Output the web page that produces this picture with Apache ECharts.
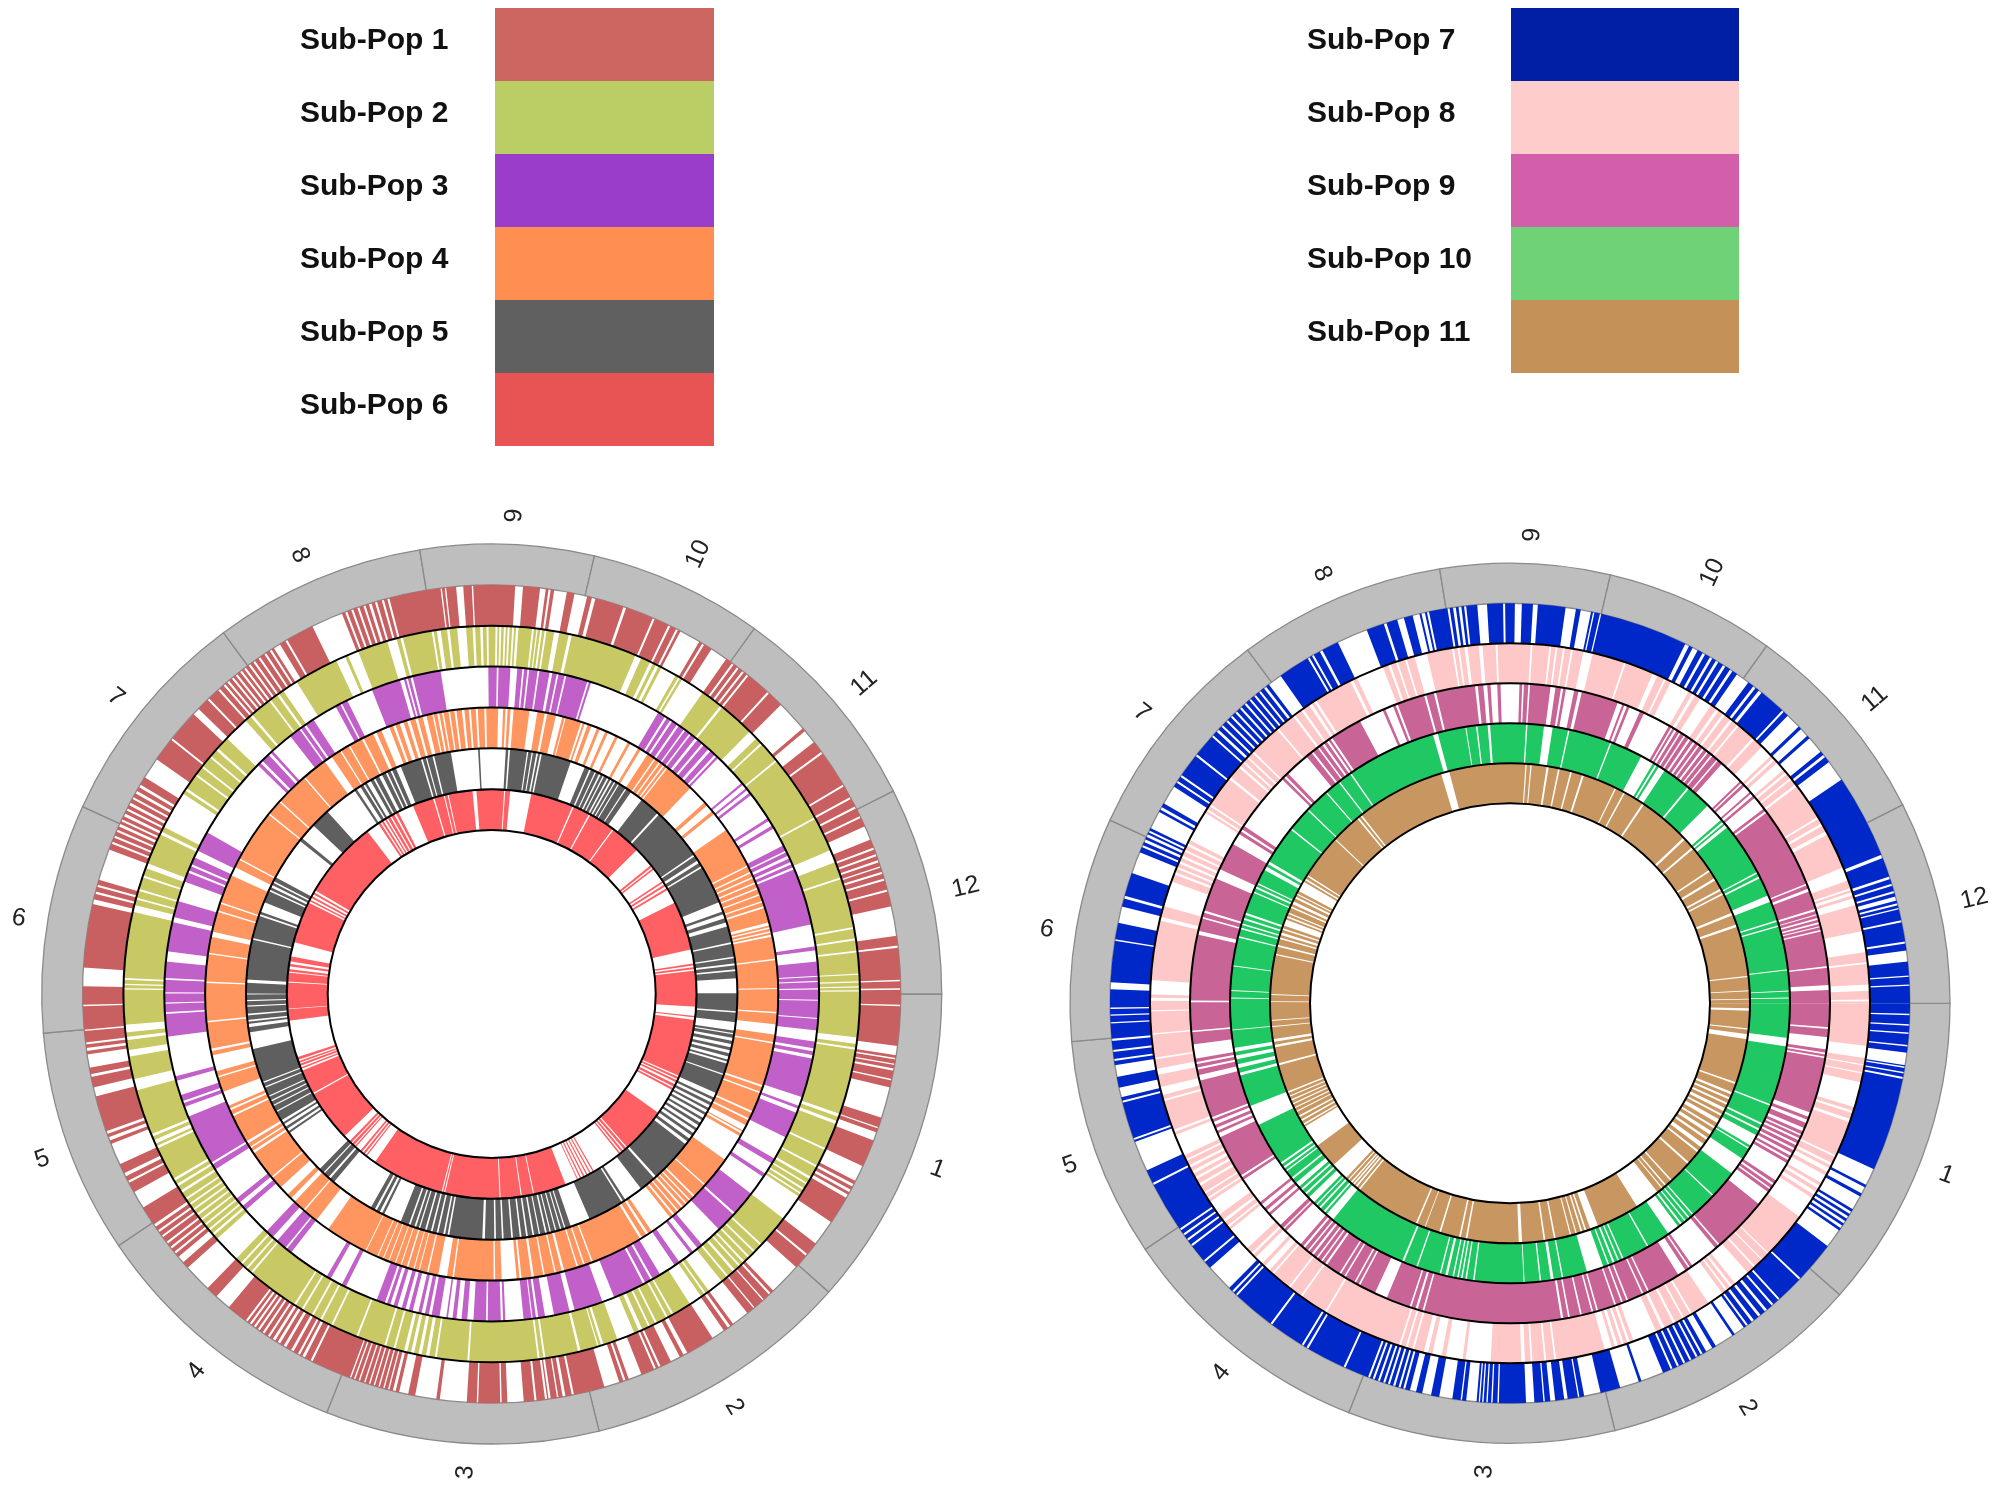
<!DOCTYPE html>
<html><head><meta charset="utf-8">
<style>html,body{margin:0;padding:0;background:#fff}#c{width:2000px;height:1488px}</style>
<script src="https://cdn.jsdelivr.net/npm/echarts@6/dist/echarts.min.js"></script>
</head><body><div id="c"></div>
<script>
// Angles are degrees clockwise from 3 o'clock; every pair is an unoccupied (white) stretch of a ring.
const chromLabels=['1','2','3','4','5','6','7','8','9','10','11','12'];
const chromEdges=[0,41.5,76.2,111.5,146,175,204.6,233.4,260.8,283.2,305.7,333.2,360];
const subPopNames=['Sub-Pop 1','Sub-Pop 2','Sub-Pop 3','Sub-Pop 4','Sub-Pop 5','Sub-Pop 6','Sub-Pop 7','Sub-Pop 8','Sub-Pop 9','Sub-Pop 10','Sub-Pop 11'];
const ringColors=['#C85F60','#C8C864','#C060C8','#FF9660','#5F5F5F','#FF6064','#0028C8','#FFC8C8','#C86496','#20C864','#C89660'];
const legendColors=['#CD6560','#BBCE66','#9B3DCB','#FF8F50','#606060','#E85454','#001FA5','#FFCCCC','#D25EAC','#70D277','#C49259'];

const subPop1Gaps=[[1.5,1.7],[7.3,8.6],[9,9.2],[9.8,10],[10.5,10.8],[12,12.2],[13.2,17.6],[19,19.2],[19.8,21],[24.9,27.2],[27.7,28.1],[28.6,29],[29.4,29.9],[33.9,37.6],[39.5,39.8],[41.9,46.5],[47,47.3],[48.3,48.5],[50,50.2],[51.3,53.8],[54.3,54.7],[55.4,57.3],[61.4,62],[62.6,64],[65.6,65.9],[66.3,66.6],[68.5,70.4],[70.9,71.2],[71.8,74],[78.4,78.7],[79.6,80],[80.6,80.8],[81.7,82],[82.2,82.5],[83.7,84],[85.5,87.8],[88.6,88.8],[91.9,92.1],[93.5,97.3],[97.8,100.8],[101.8,103.1],[103.6,104],[104.5,104.7],[105.2,105.4],[105.9,106.1],[106.6,106.8],[107.3,107.5],[108,108.2],[108.8,109],[109.5,109.7],[110.1,110.3],[116,116.3],[117.2,117.6],[118,118.3],[119,119.4],[120.2,120.6],[121.2,121.6],[122,122.4],[122.9,123.2],[123.8,124.1],[124.6,124.9],[125.3,125.6],[126,126.3],[126.7,127],[130,132.3],[134,138],[139,140],[140.6,140.9],[141.5,141.8],[142.4,142.7],[143.5,143.8],[144.4,144.7],[145.3,145.7],[148.5,151],[152.5,152.8],[153.5,154],[155.4,158.5],[159,159.5],[160,160.4],[165.5,166.8],[168.3,168.7],[169.6,171.5],[172,172.4],[172.9,173.2],[174.8,175],[178.3,178.5],[181.1,183.7],[192.7,193.4],[194.2,194.5],[195.2,195.5],[196.2,200.7],[201.6,201.9],[202.5,202.8],[203.4,203.7],[204.2,204.6],[205,205.3],[205.8,206.2],[206.7,207],[207.5,207.9],[208.5,208.8],[209.4,209.8],[210.4,210.8],[212,215],[218.4,218.7],[223.2,224.2],[226,226.3],[228,228.3],[229,229.3],[229.7,230],[230.5,230.8],[231.2,231.5],[232,232.3],[232.7,233],[233.5,233.8],[234.3,234.6],[235.2,235.5],[236.2,236.5],[237.1,237.4],[237.8,238.8],[239.7,240],[244,248.5],[249,249.3],[249.9,250.2],[250.8,251.1],[251.7,252],[252.5,252.9],[253.4,253.7],[254.4,254.7],[255.2,255.5],[262.8,263],[263.4,263.6],[265,266],[267.2,267.4],[273.3,274.4],[276.8,277.6],[278,278.3],[278.8,280.6],[281.7,283.5],[284.2,284.7],[288.8,289.2],[293.2,293.5],[295.6,295.9],[296.8,297.1],[297.5,300.5],[301,301.3],[302.5,305],[306,306.3],[306.9,307.2],[307.8,308.1],[308.6,308.9],[312.4,312.7],[315,319.5],[320,322],[323.7,324],[329.2,329.5],[331.2,331.5],[332.7,333],[334.2,334.5],[335.8,337.8],[339,339.3],[340,340.3],[340.9,341.2],[341.8,342],[342.6,342.9],[343.6,343.9],[345.2,345.5],[347.6,351.8],[353.2,353.5],[358,358.2],[359.2,359.4]];
const subPop2Gaps=[[6.8,7.8],[8.4,8.7],[19,19.5],[20.2,20.7],[24.8,25.1],[27.8,28.1],[29.8,30.2],[30.9,31.2],[31.9,32.2],[32.7,33],[33.4,37.6],[42.8,43.1],[44.3,44.6],[45.5,45.8],[46.6,46.9],[47.5,47.8],[48.6,49],[50,50.3],[51.3,53.8],[54.4,54.7],[55.3,57.4],[60.4,60.7],[61.4,61.7],[63.3,63.6],[64.5,64.8],[65.8,66.4],[67.2,70],[72.3,72.7],[73.1,73.3],[76,76.4],[81.6,81.9],[82.5,82.8],[93.5,93.8],[98.6,98.9],[99.8,100.3],[101,101.5],[102.2,102.7],[103.3,103.8],[105.2,105.5],[106.7,107],[111.3,111.6],[115.6,115.9],[117.5,117.8],[119,119.3],[120.8,121.1],[122.2,122.5],[130.6,130.9],[131.6,131.9],[132.7,133],[134,138.3],[139,139.4],[140,140.3],[141,141.3],[142,142.3],[143,143.3],[144,144.3],[145,145.3],[146,146.3],[147.3,147.7],[148.5,148.9],[149.5,149.9],[155.2,155.6],[156,156.6],[157.2,157.6],[164.8,166.6],[170.2,171.2],[172.8,173.3],[174,175.2],[180.7,180.9],[181.4,181.6],[182.2,182.5],[192.9,194],[194.9,195.2],[196.3,196.6],[198.5,198.8],[200,200.8],[205.7,206.2],[207,213],[213.6,214],[216.4,216.7],[218,218.3],[220,220.3],[221.5,221.9],[224,228],[229,229.4],[232.8,233.1],[234.3,234.7],[235.5,238],[245,246.5],[247,248.7],[253.5,255],[255.6,256],[260.6,260.9],[261.4,262],[263,263.4],[264.6,266],[267,267.4],[268.2,268.6],[269.2,269.5],[270.6,270.9],[271.2,271.5],[271.9,272.2],[272.5,272.8],[273.2,273.5],[273.8,274.2],[276.3,276.6],[277,277.2],[277.6,277.9],[278.3,278.6],[279.8,280.6],[282.1,282.6],[293,294],[295.5,296],[296.5,297],[297.5,300],[300.5,300.8],[301.2,305],[308.4,308.8],[314.5,316],[317,317.3],[320.5,320.8],[331.3,331.6],[337,339],[341.5,341.8],[349.5,349.8],[351.3,351.6],[353.2,353.5],[356.8,357],[358,358.2],[358.8,359],[359.4,359.6]];
const subPop3Gaps=[[1,1.2],[4.2,4.4],[6.4,8.4],[9.6,10.1],[10.8,11.4],[18.4,20],[20.5,21.3],[26,30.2],[31.2,33.3],[34,37.6],[42,42.4],[46,50],[51,52],[52.6,55],[56,59],[60.5,60.9],[62,62.4],[68,70.2],[75.3,76.2],[79,80.6],[81.8,82.2],[82.8,83],[84.4,87.6],[88,88.4],[90.7,91],[93.2,94.3],[95.3,96.2],[96.9,97.7],[98,99.2],[100.6,101.1],[101.8,102.4],[103,104],[104.7,105.3],[106,106.8],[107.5,108.1],[108.7,109.1],[110.6,114],[114,116.5],[117.3,119.5],[120.3,127.8],[128.8,129.1],[131,132],[133.5,138.7],[139.6,140.4],[141.3,147.6],[148.6,149],[158,159.8],[160.5,160.9],[162,164.6],[165.4,172.5],[176.5,176.8],[178.3,178.5],[180.1,180.3],[182.5,182.8],[185.7,187.5],[192.7,193.6],[196.5,200.1],[201.8,202.2],[203,203.4],[204.7,206],[209.6,224.4],[225,225.5],[227,227.5],[228,232],[234,234.3],[235,235.4],[237,241.5],[242.4,242.7],[243.8,248.5],[253.7,254.4],[254.8,255.1],[255.6,256],[261,269.4],[270.9,271.2],[273.3,274.5],[275.4,275.7],[276.3,276.6],[278.1,278.4],[280.2,280.7],[281.5,281.8],[282.9,283.2],[287,287.3],[287.7,300.6],[302,302.4],[303.1,303.5],[304.5,304.9],[306,306.3],[307.2,307.5],[308.5,309],[310,310.4],[311.5,312],[313,313.4],[313.8,319.8],[320.2,321],[321.4,322],[322.5,327.5],[328,329],[329.6,333],[334,334.3],[335,335.5],[336.2,336.6],[337.2,337.6],[347.7,351.6],[352.3,354.3],[356.8,357],[357.7,357.9],[359,359.2]];
const subPop4Gaps=[[3.6,3.9],[6.1,8.2],[9.7,10],[18.6,19],[20,20.3],[24.2,24.6],[25.8,26.2],[27.3,28.5],[28.8,29.2],[29.8,35.4],[41.7,42],[44.8,45.2],[46,46.3],[47,47.3],[48,48.4],[49.2,49.5],[50.3,50.7],[51.4,56],[56.8,57.3],[58.3,58.8],[69.3,69.6],[71,71.3],[72.4,72.7],[75.3,75.8],[77,77.3],[79.3,79.6],[81.5,82],[84,84.4],[85,88],[89.3,89.6],[97.6,97.9],[99,100.8],[102.8,103.1],[104.6,104.8],[105.7,105.9],[107,107.3],[108.4,108.6],[109.6,109.8],[111,111.2],[112.2,112.4],[113.4,113.6],[116,116.2],[124.8,127.8],[130.8,131.1],[133.5,134.5],[135.5,137.5],[140,140.3],[146.2,146.7],[147.4,147.7],[148.5,149],[154.7,155.1],[156,156.4],[157,160],[163,163.3],[164.3,167.6],[168.5,169],[174.3,174.6],[182.2,182.5],[188,188.3],[191.5,192.6],[196.7,197],[198.4,198.7],[204.5,206.3],[208,208.3],[218.8,219.1],[222.1,222.4],[229,229.3],[234.3,236],[238,238.3],[240,240.3],[243,243.4],[245.5,246.2],[247.3,249],[249.8,250.3],[251.2,252],[252.8,253.4],[254.5,255],[256,256.8],[258,258.3],[259,259.4],[260,260.3],[261.3,261.6],[262.5,262.9],[264,264.5],[265.4,265.8],[266.8,267.2],[268.5,268.9],[271.3,272.3],[272.8,273.2],[273.8,274.4],[277.6,279.2],[280.7,281.2],[283,284.3],[284.8,285],[288.2,288.6],[289,289.6],[290.4,291.6],[292.2,293.4],[294,295.6],[296.2,298.4],[299,300.8],[301.4,303],[304.6,304.9],[305.8,306.1],[306.8,307.1],[307.6,307.9],[314,318],[318.8,320.3],[321,325],[333.3,333.6],[334.7,335],[335.8,336.1],[337,337.3],[338.2,338.5],[339.5,339.8],[341,341.3],[342.1,342.5],[345.5,346.1],[346.5,346.8],[347.3,347.6],[348,348.4],[352.9,353.2],[358.8,359]];
const subPop5Gaps=[[4,4.4],[6.6,8.6],[9.2,9.5],[10.3,11],[11.8,12.6],[13.3,14],[14.8,15.5],[16,16.5],[19,19.3],[23.8,25],[25.6,26.3],[27,27.7],[28.3,29],[29.6,30.4],[31,31.7],[32.4,33.2],[33.8,34.6],[35.3,36.2],[37,37.8],[48,48.6],[52.5,57],[57.6,58],[66.5,71.2],[72.5,72.8],[73.5,73.8],[74.7,75],[76,76.3],[77,77.4],[78.6,78.9],[80,80.4],[81.5,81.9],[83,83.4],[85,85.4],[87.2,87.6],[89,89.4],[91.6,92.2],[100,100.4],[101,101.4],[102.6,103],[104,104.4],[105.4,105.8],[107,107.3],[108,108.4],[109.4,109.8],[111.8,116],[116.6,117.2],[118,118.5],[119.5,130],[131.2,131.7],[133,133.3],[134.5,145.5],[146,146.6],[147.2,147.9],[148.4,149],[151.2,151.5],[152.8,153.1],[154,154.3],[155.2,155.5],[157.5,157.8],[158.7,159],[167,171],[172.2,173],[173.5,173.9],[175,175.4],[177,177.3],[178.3,178.6],[179.9,180.1],[182.6,183.4],[192.8,193.2],[198.6,199],[199.6,202],[204.8,205.2],[205.8,206.4],[207,207.4],[208.4,218.6],[219.4,223.4],[228,236],[236.6,237.6],[238.4,238.8],[239.4,240.4],[241.2,241.6],[242.6,243.4],[244.4,244.8],[245.6,246],[247,248.2],[253.2,253.6],[254.4,254.7],[256,256.4],[260.4,266.8],[267.2,273.3],[273.9,274.3],[278.3,278.6],[279.4,279.7],[280.5,280.9],[281.4,281.8],[288.8,292.3],[293.5,293.9],[294.9,295.2],[296,296.4],[297,297.3],[298.1,298.5],[299,299.4],[300,300.3],[301,301.3],[303,303.3],[304.6,307.7],[312.5,313],[325.4,325.8],[327,327.7],[328.6,329],[338,340.3],[341,342],[343,344],[347.8,348.2],[351.2,351.6],[352.8,353.3],[354.2,354.6],[356.3,359.8]];
const subPop6Gaps=[[3.6,6.2],[6.6,7.3],[23.6,24],[24.6,25],[25.6,26.2],[27,27.4],[28,35.5],[48.5,48.9],[49.6,50],[50.6,51],[51.5,60],[60.4,61],[61.4,62],[62.4,63],[63.4,64],[64.4,65],[65.3,68.8],[78,78.3],[81.5,81.8],[87.5,87.8],[103.2,103.5],[103.9,104.2],[124.8,127.6],[128,128.4],[129,129.4],[130,131.6],[132,132.3],[133,133.3],[134,136],[150.6,151],[158,158.5],[159,159.4],[160,160.3],[160.8,161.2],[162,172.5],[175.7,175.9],[183.2,183.5],[186,186.3],[187,187.8],[188.5,189.2],[190.6,194.7],[206.5,207],[207.5,208],[208.6,209.2],[209.8,210.4],[232.6,236.3],[237,237.4],[238,238.5],[239,239.4],[240.2,240.6],[241.5,242],[242.8,247.3],[253.3,253.7],[256.4,256.7],[257.5,257.8],[264.6,265.7],[273.5,273.8],[275.2,281.2],[293.3,293.7],[298.4,298.8],[306.2,306.6],[315.2,321],[321.6,322],[322.5,326.5],[327,327.6],[328.2,328.8],[329.4,333.5],[347.4,351.4],[351.9,352.4],[353,353.4]];
const subPop7Gaps=[[1.5,1.7],[3,3.2],[4.2,4.4],[6,6.2],[7.1,8.9],[9.1,9.3],[9.9,10.1],[10.6,10.9],[24.5,27],[27.4,28.4],[28.9,31],[31.4,31.8],[32.2,32.6],[33,33.4],[33.8,34.2],[34.6,37.4],[43.4,43.7],[47.6,47.9],[48.8,49.1],[50,50.4],[51.2,51.6],[52.4,52.8],[53.5,53.8],[54.2,55.8],[56.2,59],[59.6,60.6],[61.2,61.5],[62,62.3],[63,63.3],[64,64.3],[65,65.3],[66,66.3],[67.5,70.8],[71.2,74],[76.9,79.3],[80,80.2],[81.7,82.2],[83.5,84.2],[85,85.2],[86.5,87.7],[91.6,91.8],[92.5,92.7],[93.2,93.4],[93.8,94],[94.3,94.5],[94.8,96.3],[96.9,97.1],[98.3,100.2],[101.4,102.7],[103.6,104.5],[105.2,105.5],[105.9,106.2],[106.7,107],[107.5,107.8],[108.2,108.5],[109,109.3],[109.8,110.1],[110.5,110.8],[114.3,114.6],[120.3,120.6],[121.1,121.4],[126.5,126.8],[133,133.3],[133.7,134],[134.6,138.6],[139.7,140],[142.6,142.9],[143.6,143.9],[144.5,144.8],[145.4,145.7],[153,153.3],[155.3,159.7],[160,160.3],[165.6,165.9],[166.4,167.8],[169.4,171.1],[171.7,172],[173,173.3],[174.6,174.9],[177.1,177.3],[178.2,178.4],[179.2,179.4],[182,183],[189,189.2],[191.6,194],[195.2,195.6],[199,202.2],[203,203.3],[203.8,204.2],[204.6,205],[205.3,205.6],[206,208.6],[209,209.4],[210,212.8],[213.5,213.8],[214.5,214.8],[218.2,218.5],[221.8,222.1],[222.8,223.2],[223.8,224.1],[224.8,225.1],[225.7,226],[226.6,226.9],[227.5,227.8],[228.4,228.7],[229.3,229.6],[230.2,230.5],[231.1,231.4],[232,232.4],[232.9,235],[239.6,239.9],[240.3,240.6],[241.6,242],[244.5,249],[251.6,252],[253.6,254.6],[255.9,256.9],[257.2,257.7],[258,258.3],[261,261.3],[261.8,262.2],[262.6,263],[263.4,263.7],[265.3,266.7],[269,269.3],[270.7,271.7],[273.3,274],[278,279.5],[280.2,281.7],[282,282.2],[283,283.2],[296,296.6],[297.2,298],[298.8,299.2],[300,300.4],[301,301.4],[302.2,302.6],[303.4,303.8],[304.6,306.6],[307.5,307.9],[308.5,309],[312.9,313.2],[314,316.2],[316.7,318],[318.5,321],[321.6,322],[322.9,326],[338.2,338.7],[341.5,341.9],[342.6,342.9],[343.7,344],[344.5,345.1],[345.5,345.8],[346.2,346.4],[348,348.3],[351.1,351.4],[352.4,354],[356,356.2],[357.3,357.5]];
const subPop8Gaps=[[6.8,8.8],[9.8,10],[11.1,11.3],[12.7,16.8],[17.4,17.8],[18.8,19.3],[25,25.3],[26.4,26.8],[27.3,28],[28.6,30],[30.5,31],[31.6,32.2],[32.8,36.4],[44,44.2],[45.4,45.6],[47,47.3],[48.6,51.2],[51.8,52.2],[52.8,53.1],[53.8,56.5],[59.6,59.9],[61,61.3],[62.6,63],[64.5,65],[66,69.9],[70.5,70.9],[71.5,71.9],[72.5,73],[73.5,74.7],[82.6,82.9],[84.2,84.5],[86.4,86.7],[87.6,88.2],[93.1,97.1],[97.6,100.3],[101,102.5],[103.2,103.9],[105.5,105.8],[106.6,106.9],[107.7,108],[120.7,121],[125.3,125.6],[127.7,128],[131.1,131.4],[132,133],[133.6,135],[135.6,136],[137,141],[141.5,141.8],[142.5,143],[144,146.5],[147,147.3],[148,148.3],[149.5,149.9],[150.7,151.1],[151.7,152.2],[152.8,153.2],[154,154.3],[155,158.5],[159,159.4],[164.2,164.5],[165.2,166.5],[168.5,169.5],[171,171.3],[175,175.2],[178.7,178.9],[180.4,180.9],[181.4,183.7],[193.3,193.9],[195.7,199.8],[201,201.4],[202,202.3],[202.9,203.3],[203.9,204.3],[205,205.3],[206,206.4],[207,212],[212.4,212.7],[213.3,213.6],[218.6,219],[221,221.4],[222,222.3],[223,223.3],[224.2,224.5],[229.6,229.9],[232.9,233.3],[234.5,234.9],[236,236.5],[237,237.4],[243.6,244.1],[244.8,249.3],[250.2,250.6],[251.5,251.8],[253,253.3],[254.6,256.6],[260.7,261],[261.6,261.9],[262.7,263.2],[265,265.6],[267.7,268],[273.3,273.6],[276.3,276.6],[277.3,277.6],[278.5,278.8],[279.8,280.1],[281.8,283.3],[288.5,288.8],[293.4,294.2],[295.4,295.7],[296.6,299.8],[300.5,301],[302,304],[305,305.5],[306.3,306.7],[307.8,308.2],[309.2,309.5],[312.4,312.8],[314.5,316.5],[317,317.4],[318,319.5],[320,320.4],[321.2,321.5],[322.5,322.9],[328.8,329.1],[330,330.4],[331.4,332],[337.8,340],[341.3,341.6],[342,342.5],[343,344.1],[348.4,351.8],[353.4,353.7],[357,358],[359.4,359.7]];
const subPop9Gaps=[[4.3,4.6],[6.1,8.3],[8.9,9.2],[9.6,9.9],[20,20.8],[21.4,22],[23,23.6],[24.2,24.5],[25,25.4],[26,26.4],[27,27.4],[28,28.5],[29,29.4],[30,33.7],[34.3,34.7],[35.3,35.6],[36.2,38.9],[49,49.3],[50,55.2],[55.7,56],[56.7,58.2],[64.2,64.5],[65.3,65.6],[68.3,68.6],[69.3,69.6],[70.6,70.9],[74,74.3],[74.9,75.2],[77,77.3],[79.2,79.5],[80.4,80.8],[105.6,105.9],[106.8,107.2],[108,108.3],[112.7,115],[118,118.3],[118.9,119.2],[121,121.3],[122,122.3],[125,125.4],[126,126.3],[127,127.3],[128,128.4],[129,129.3],[130,130.4],[131,134.5],[135,135.3],[136,138.5],[139,139.6],[140.2,141],[141.5,146.5],[147,147.4],[155.2,156],[156.5,157],[157.6,158.2],[158.7,159.1],[166,167],[168,168.4],[169,169.4],[170,172.6],[174.8,175.1],[180.2,180.5],[192.4,193.1],[195.4,195.7],[196.5,196.9],[203,204.8],[209.9,212],[212.6,213],[213.7,224.5],[225,225.4],[226,230.5],[231.6,232],[233,233.3],[234,234.4],[235,235.4],[235.8,236.2],[242,246.5],[247,248.5],[249,249.4],[254.4,254.8],[256.2,256.6],[263.7,264.2],[265.2,265.9],[266.5,267.7],[268.3,271.7],[272.2,272.5],[273.3,273.6],[277.3,278.2],[279.2,279.6],[280.1,281.6],[282.4,283],[289.7,290.6],[291,291.5],[292,294],[294.8,299.8],[300.3,300.6],[301,301.4],[302,302.3],[303,303.3],[304,304.4],[305,305.4],[306,306.3],[307,307.4],[308,308.3],[309,309.3],[310.3,310.6],[311.5,316],[316.4,316.7],[317.2,318.6],[319,319.5],[320,322.5],[323,323.4],[338,338.3],[339,339.5],[342.8,343.2],[343.8,344],[344.5,344.8],[345.3,345.6],[346,346.2],[346.7,347],[353.3,353.6],[356.7,357.6]];
const subPop10Gaps=[[7.1,8.9],[21.2,21.5],[25.4,25.8],[26.7,27.1],[28.2,30.6],[31.1,31.4],[33.8,37.5],[43.3,43.6],[49,49.3],[50,50.3],[51,51.3],[52,52.4],[53,55.5],[60.3,60.6],[66,66.3],[67,67.3],[68,68.4],[69.2,69.5],[70.5,74],[79,79.3],[81,81.6],[83.6,83.9],[87,87.2],[97.3,97.6],[98.9,99.2],[99.8,100.1],[100.6,100.9],[101.6,101.9],[102.9,103.4],[104.3,104.6],[109.3,109.6],[112.3,112.7],[129.3,131],[131.5,131.9],[132.7,133.1],[133.7,134],[134.6,136],[136.8,137.2],[138,138.4],[139,140],[141,141.4],[143,143.3],[143.8,144.2],[144.8,145.2],[154.2,158.4],[165,165.6],[166.6,167.4],[168.4,169.2],[170,170.8],[174.4,174.6],[181,181.2],[182.5,182.7],[187.6,187.8],[193.6,193.9],[195.4,195.7],[196.3,196.6],[197.4,197.8],[198.5,198.9],[203.3,203.6],[204.3,204.7],[205.2,205.5],[208.5,209.3],[209.9,210.5],[218.4,218.7],[223.6,223.9],[228.8,229.1],[232.2,232.5],[235.1,235.4],[254,255],[260.8,261],[263,263.3],[265.4,265.9],[273.3,273.6],[277,278.8],[282,282.3],[291,291.3],[298,300.8],[301.3,301.7],[302.2,303.6],[309.4,309.8],[315,319],[319.5,319.9],[320.3,321],[332,332.3],[333,333.4],[337.3,338.7],[342.7,343],[343.8,344.1],[353,353.2],[357.4,357.6],[358.8,359]];
const subPop11Gaps=[[1.2,1.8],[6,6.3],[7.4,8.6],[19.3,19.7],[21.8,22.4],[23.2,23.7],[24.6,25.1],[26,26.8],[27.6,28.1],[29,30],[31,31.5],[32.4,33.3],[34.2,34.8],[36,37],[38,38.5],[41.6,42.1],[47.5,47.9],[49.3,49.7],[50.4,50.7],[52,58],[68.4,70.4],[71.4,71.8],[72.4,72.8],[73.8,74.1],[75.2,75.5],[79,79.4],[81.5,81.9],[87.1,87.9],[100.3,100.7],[101.9,102.3],[106.8,107.2],[110.7,110.9],[112.8,113.2],[128.8,129.2],[129.8,130.2],[130.6,131],[131.3,131.7],[132.3,132.6],[133.2,137.5],[143.5,149],[149.4,149.8],[150.5,150.9],[151.6,152],[153,153.3],[154,154.3],[155,155.3],[156,156.3],[157,157.3],[158,158.4],[165,165.5],[169.4,170],[170.7,171.4],[174.3,174.5],[175.8,176],[180.3,180.5],[182,182.2],[191.6,191.9],[193.7,194.1],[195.6,196],[196.6,197.2],[197.9,198.3],[199,200.5],[201,201.4],[202,202.3],[203.5,203.9],[204.5,205.2],[206,206.5],[207,207.3],[208,210.5],[211,211.4],[212,212.4],[223,223.3],[230.4,230.8],[231.4,231.8],[253.3,255.3],[273.7,274],[274.9,275.2],[278.8,279.3],[281.6,282],[284.6,285],[287.5,288],[296,296.3],[298.3,298.7],[303.5,304],[316.3,316.9],[319.4,319.9],[326.2,326.6],[328.5,329.1],[331.4,331.9],[332.6,333],[337.8,338.4],[340.8,341.4],[353.4,353.7],[356.9,357.1],[358.9,359.1]];
const allGaps=[subPop1Gaps,subPop2Gaps,subPop3Gaps,subPop4Gaps,subPop5Gaps,subPop6Gaps,subPop7Gaps,subPop8Gaps,subPop9Gaps,subPop10Gaps,subPop11Gaps];

function blocksFrom(gaps){
  const s=gaps.slice().sort((a,b)=>a[0]-b[0]);const out=[];let p=0;
  s.forEach(g=>{if(g[0]>p)out.push([p,g[0]]);p=Math.max(p,g[1]);});
  if(p<360)out.push([p,360]);return out;
}
const RAD=Math.PI/180;
function sectorItem(params,api){
  const c=params.coordSys,rIn=api.value(0),rOut=api.value(1),a0=api.value(2),a1=api.value(3);
  const pO=api.coord([rOut,a0]),pI=api.coord([rIn,a0]),pE=api.coord([rOut,a1]);
  let s=Math.atan2(pO[1]-c.cy,pO[0]-c.cx),e=Math.atan2(pE[1]-c.cy,pE[0]-c.cx);
  if(e<=s)e+=2*Math.PI;
  return {type:'sector',shape:{cx:c.cx,cy:c.cy,r:Math.hypot(pO[0]-c.cx,pO[1]-c.cy),r0:Math.hypot(pI[0]-c.cx,pI[1]-c.cy),startAngle:s,endAngle:e,clockwise:true},
    style:{fill:api.visual('color'),stroke:params.seriesName==='Chromosomes'?'#8a8a8a':null,lineWidth:params.seriesName==='Chromosomes'?1.3:0}};
}
function ringBorderItem(params,api){
  const c=params.coordSys,p=api.coord([api.value(0),0]);
  return {type:'circle',shape:{cx:c.cx,cy:c.cy,r:Math.hypot(p[0]-c.cx,p[1]-c.cy)},style:{fill:'none',stroke:'#000',lineWidth:2}};
}
function labelItem(params,api){
  const c=params.coordSys,mid=api.value(1),p0=api.coord([api.value(0),mid]);
  const dx=p0[0]-c.cx,dy=p0[1]-c.cy,r=Math.hypot(dx,dy),th=Math.atan2(dy,dx);
  const deg=(th/RAD+360)%360,inward=deg>90&&deg<270;
  const rot=inward?-(th+Math.PI):-th;
  const x=c.cx+(r+22)*Math.cos(th)+6*Math.sin(rot),y=c.cy+(r+22)*Math.sin(th)+6*Math.cos(rot);
  return {type:'text',x:x,y:y,rotation:rot,style:{text:chromLabels[params.dataIndex],fontFamily:'Liberation Sans',fontSize:25,fill:'#222',align:inward?'right':'left',verticalAlign:'middle'}};
}
function chartSeries(polarIndex,firstPop,count){
  const base={type:'custom',coordinateSystem:'polar',polarIndex:polarIndex,silent:true,animation:false,clip:false};
  const out=[];
  const chromData=chromLabels.map((n,i)=>[count,count+1,chromEdges[i],chromEdges[i+1]]);
  out.push(Object.assign({},base,{name:'Chromosomes',z:1,renderItem:sectorItem,itemStyle:{color:'#BEBEBE'},data:chromData,encode:{radius:1,angle:2}}));
  for(let i=0;i<count;i++){
    const k=firstPop+i,level=count-1-i;
    out.push(Object.assign({},base,{name:subPopNames[k],z:2,renderItem:sectorItem,itemStyle:{color:ringColors[k]},
      data:blocksFrom(allGaps[k]).map(b=>[level,level+1,b[0],b[1]]),encode:{radius:1,angle:2}}));
  }
  const borders=[];for(let i=0;i<count;i++)borders.push([i]);
  out.push(Object.assign({},base,{name:'Borders',z:3,renderItem:ringBorderItem,data:borders,encode:{radius:0}}));
  out.push(Object.assign({},base,{name:'Labels',z:4,renderItem:labelItem,
    data:chromLabels.map((n,i)=>[count+1,(chromEdges[i]+chromEdges[i+1])/2]),encode:{radius:0,angle:1}}));
  return out;
}
function legendFor(names,first,left,textW,swatchW){
  return {orient:'vertical',left:left,top:8,padding:0,itemGap:0,itemWidth:swatchW,itemHeight:73,align:'right',icon:'rect',selectedMode:false,
    data:names.map((n,i)=>({name:n,itemStyle:{color:legendColors[first+i],borderWidth:0}})),
    formatter:n=>'{a|'+n+'}',
    textStyle:{rich:{a:{width:textW,align:'left',fontFamily:'Liberation Sans',fontWeight:'bold',fontSize:30,color:'#111',padding:[0,0,8,0]}}}};
}
const chart=echarts.init(document.getElementById('c'),null,{renderer:'canvas'});
chart.setOption({
  backgroundColor:'#fff',animation:false,
  legend:[legendFor(subPopNames.slice(0,6),0,300,190,219),legendFor(subPopNames.slice(6),6,1307,199,228)],
  polar:[{center:[491.7,994],radius:[164,450]},{center:[1510,1003.3],radius:[200,440]}],
  angleAxis:[{polarIndex:0,type:'value',min:0,max:360,startAngle:0,clockwise:true,show:false},
             {polarIndex:1,type:'value',min:0,max:360,startAngle:0,clockwise:true,show:false}],
  radiusAxis:[{polarIndex:0,type:'value',min:0,max:7,show:false},{polarIndex:1,type:'value',min:0,max:6,show:false}],
  series:[...chartSeries(0,0,6),...chartSeries(1,6,5)]
});
</script></body></html>
